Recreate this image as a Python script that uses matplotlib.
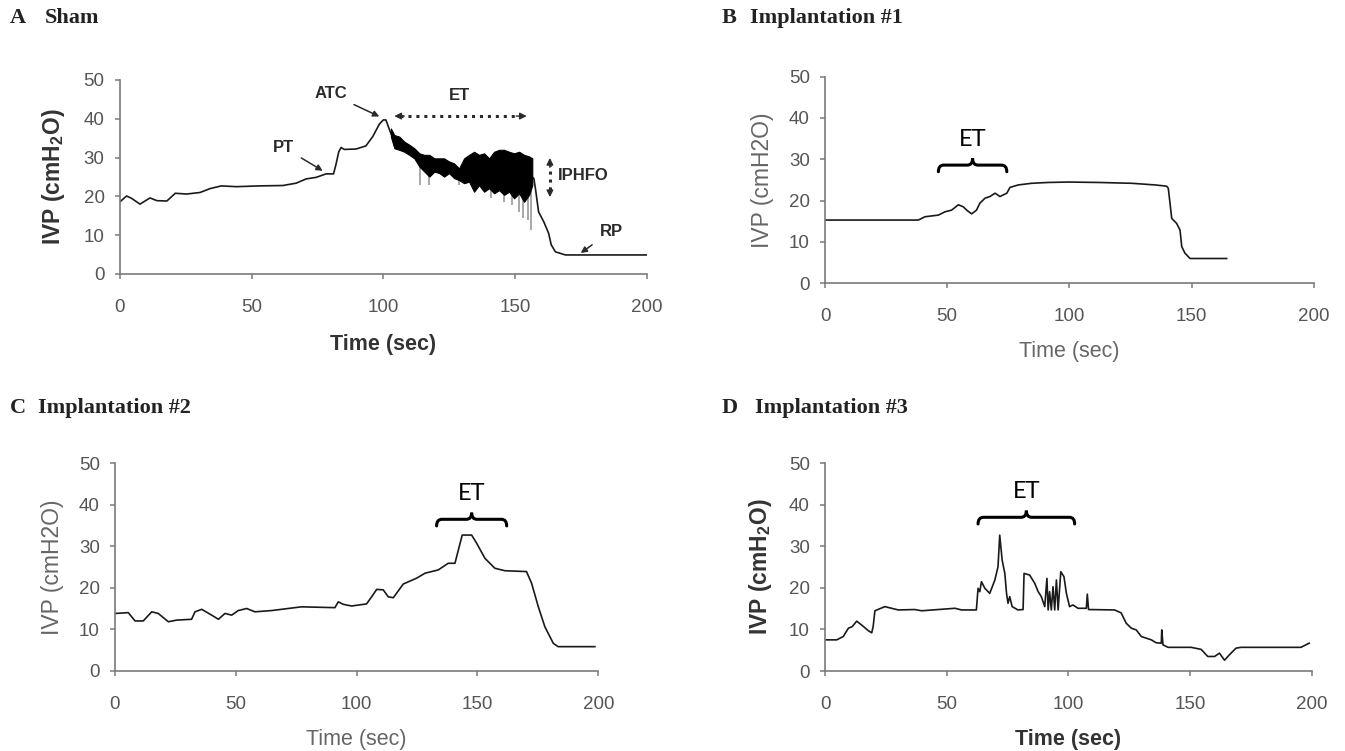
import numpy as np
import matplotlib
matplotlib.use("Agg")
import matplotlib.pyplot as plt
from matplotlib.path import Path
from matplotlib.patches import PathPatch

plt.rcParams["font.family"] = ["Liberation Sans", "DejaVu Sans"]
plt.rcParams["mathtext.fontset"] = "custom"
plt.rcParams["mathtext.rm"] = "Liberation Sans"
plt.rcParams["mathtext.bf"] = "Liberation Sans:bold"

# ---- data (time in sec, IVP in cmH2O) ----

# A  Sham
sham_t = [0, 2.5, 4.4, 7.6, 11.4, 14, 17.8, 21, 25.3, 30.4, 34.2, 38.5, 44.2, 53,
          61.9, 66.9, 70.7, 74.5, 78.3, 81.1, 82, 83.1, 84, 85.2, 89.6, 93.4, 96,
          98.5, 100, 101, 103, 110, 120, 130, 140, 150, 156.6,
          157.2, 157.8, 159, 161, 162.8, 163.8, 165.4, 169.2, 200]
sham_v = [18.6, 20.1, 19.5, 18.0, 19.6, 18.9, 18.8, 20.8, 20.6, 21.0, 22.0, 22.7, 22.5, 22.7,
          22.8, 23.4, 24.5, 24.9, 25.8, 25.8, 28.1, 31.5, 32.6, 32.1, 32.2, 33.0, 35.4,
          38.6, 39.7, 39.7, 36.0, 32.0, 28.0, 26.5, 26.0, 25.5, 25.0,
          24.6, 22.0, 16.0, 13.4, 10.5, 7.5, 5.7, 4.9, 4.9]
# envelope of the fast oscillation during ET
band_t = [102.9, 104.2, 106.1, 108, 109.9, 111.8, 113.7, 115.6, 117.5, 119.4, 121.3,
          123.1, 125, 126.9, 128.8, 130.7, 132.6, 134.5, 136.4, 138.3, 140.2, 142.1,
          144, 145.9, 147.8, 149.7, 151.6, 153.5, 155.4, 156.6]
band_hi = [37.5, 35.8, 35.4, 34.1, 33.3, 32.4, 31.1, 30.7, 30.7, 29.8, 29.8,
           29.8, 29.0, 28.5, 27.2, 29.8, 30.7, 31.5, 30.7, 31.1, 29.8, 31.5,
           32.0, 32.0, 31.5, 31.1, 31.5, 30.7, 30.3, 29.8]
band_lo = [35.4, 32.4, 32.0, 31.5, 30.7, 29.8, 27.7, 26.4, 25.1, 26.4, 26.0,
           25.1, 26.0, 24.7, 24.2, 23.4, 23.8, 21.2, 22.9, 21.2, 22.1, 20.8,
           21.6, 20.4, 21.2, 19.5, 20.8, 18.6, 20.4, 22.9]
spike_t = [113.9, 117.5, 128.8, 141, 145.9, 149, 151.6, 152.9, 154.8, 156.1]
spike_low = [22.9, 22.9, 22.9, 19.5, 18.6, 17.8, 16.0, 14.3, 13.9, 11.3]

# B  Implantation #1
imp1_t = [0, 38.2, 40.9, 46.4, 49.1, 51.8, 54.6, 56.6, 58, 60, 62, 63.4, 65.5, 67.5,
          69.6, 71.6, 74.4, 75.7, 79.1, 84.6, 91.4, 99.6, 111.9, 125.5, 135.1, 139.8,
          140.5, 141.2, 141.9, 143.9, 145.3, 146, 147.3, 149.4, 164.4]
imp1_v = [15.3, 15.3, 16.1, 16.5, 17.3, 17.7, 19.0, 18.5, 17.7, 16.8, 17.7, 19.4, 20.6, 21.0,
          21.8, 21.0, 21.8, 23.2, 23.8, 24.2, 24.4, 24.5, 24.4, 24.2, 23.8, 23.5,
          23.0, 19.4, 15.7, 14.5, 12.9, 8.9, 7.3, 6.0, 6.0]

# C  Implantation #2
imp2_t = [0, 5.5, 8.3, 11.7, 15.2, 17.9, 22.1, 25.5, 31.7, 33.1, 35.9, 40, 42.8, 45.5,
          48.3, 51, 54.5, 57.9, 64.8, 71.7, 77.2, 91, 92.4, 94.5, 97.9, 104.1, 106.2,
          108.3, 111, 113.1, 115.2, 119.3, 124.8, 128.3, 133.8, 137.9, 140.7, 142.1,
          143.7, 147.6, 149.7, 153.1, 157.2, 161.4, 170.3, 172.4, 175.2, 177.9, 181.4,
          183.4, 198.6]
imp2_v = [13.8, 14.0, 12.0, 12.0, 14.2, 13.8, 11.8, 12.2, 12.4, 14.2, 14.8, 13.4, 12.4, 13.8,
          13.4, 14.5, 15.0, 14.2, 14.5, 15.0, 15.4, 15.2, 16.6, 16.0, 15.6, 16.1, 17.8,
          19.6, 19.5, 17.8, 17.6, 20.9, 22.3, 23.5, 24.3, 25.9, 25.9, 29.1,
          32.7, 32.7, 30.7, 27.1, 24.7, 24.1, 23.9, 21.1, 15.4, 10.6, 6.6,
          5.8, 5.8]

# D  Implantation #3
imp3_t = [0, 4.8, 7.5, 9.6, 11.2, 13, 15, 17.8, 19.2, 19.8, 20.5, 24.6, 30.1, 36.9,
          39.7, 53.4, 56.1, 62.2, 62.9, 63.6, 64.3, 65.7, 67.7, 69.8, 71.1, 71.8, 72.8,
          73.9, 74.6, 75.2, 75.9, 76.9, 79.3, 81.4, 81.8, 84.1, 86.2, 87.6, 88.9, 90.3,
          91.2, 91.7, 92.3, 93.0, 93.7, 94.4, 95.1, 95.8, 96.9, 98.2, 99.2, 100.5, 101.9,
          104, 107.4, 107.8, 108.3, 119, 121.7, 123.8, 125.9, 127.9, 130, 134.1, 136.1,
          138.2, 138.4, 138.9, 141, 150.5, 154.6, 157.3, 160.1, 162.1, 164.2, 166.2,
          168.9, 171, 195.6, 199]
imp3_v = [7.5, 7.5, 8.3, 10.3, 10.7, 12.0, 11.1, 9.7, 9.2, 10.8, 14.5, 15.5, 14.7, 14.8,
          14.5, 15.1, 14.7, 14.7, 19.9, 19.1, 21.5, 19.9, 18.7, 21.9, 25.1, 32.7, 26.7,
          23.5, 18.7, 16.3, 17.9, 15.5, 14.7, 14.8, 23.5, 23.1, 21.1, 19.1, 17.9, 15.5,
          22.3, 14.7, 19.1, 14.7, 20.3, 14.7, 21.9, 14.7, 23.9, 22.7, 18.7, 15.5, 15.9,
          15.1, 15.1, 18.5, 14.8, 14.7, 14.0, 11.5, 10.3, 9.9, 8.3, 7.5, 6.8,
          6.7, 9.9, 6.3, 5.7, 5.7, 5.2, 3.5, 3.5, 4.3, 2.6, 3.9,
          5.5, 5.7, 5.7, 6.7]

# ET braces: (start, end, level of the bar)
brace_b = (46.4, 74.4, 28.6)
brace_c = (133.1, 162.1, 36.5)
brace_d = (62.9, 102.6, 37.0)

x_ticks = [0, 50, 100, 150, 200]
y_ticks = [0, 10, 20, 30, 40, 50]

# ---- figure ----
fig = plt.figure(figsize=(13.45, 7.51), dpi=100)

ax_a = fig.add_axes([0.0892, 0.6352, 0.3915, 0.2583])
ax_b = fig.add_axes([0.6134, 0.6228, 0.3633, 0.2751])
ax_c = fig.add_axes([0.0855, 0.1069, 0.3593, 0.2762])
ax_d = fig.add_axes([0.6134, 0.1065, 0.3618, 0.2766])

trace_color = "#1a1a1a"


def style_axis(ax, bold, label_color, xl_y, yl_x):
    for side in ["top", "right"]:
        ax.spines[side].set_visible(False)
    for side in ["left", "bottom"]:
        ax.spines[side].set_color("#7a7a7a")
        ax.spines[side].set_linewidth(1.2)
    ax.set_xlim(0, 200)
    ax.set_ylim(0, 50)
    ax.set_xticks(x_ticks)
    ax.set_yticks(y_ticks)
    ax.tick_params(axis="x", length=3.5, width=1.1, color="#7a7a7a", pad=14.5,
                   labelsize=13.5, labelcolor="#555555")
    ax.tick_params(axis="y", length=3.5, width=1.1, color="#7a7a7a", pad=7.5,
                   labelsize=13.5, labelcolor="#555555")
    weight = "bold" if bold else "normal"
    if bold:
        ylab = r"IVP (cmH$_\mathbf{2}$O)"
    else:
        ylab = "IVP (cmH2O)"
    ax.set_xlabel("Time (sec)", fontsize=15.5, fontweight=weight, color=label_color)
    ax.set_ylabel(ylab, fontsize=16.5, fontweight=weight, color=label_color)
    ax.xaxis.set_label_coords(0.5, xl_y)
    ax.yaxis.set_label_coords(yl_x, 0.5)


def draw_brace(ax, x0, x1, y, h=1.6, d=2.2):
    xm = (x0 + x1) / 2
    verts = [(x0, y - h), (x0, y), (x0 + d, y),
             (xm - d, y), (xm, y), (xm, y + h),
             (xm, y), (xm + d, y),
             (x1 - d, y), (x1, y), (x1, y - h)]
    codes = [Path.MOVETO, Path.CURVE3, Path.CURVE3,
             Path.LINETO, Path.CURVE3, Path.CURVE3,
             Path.CURVE3, Path.CURVE3,
             Path.LINETO, Path.CURVE3, Path.CURVE3]
    ax.add_patch(PathPatch(Path(verts, codes), fill=False, lw=2.2,
                           edgecolor="black", capstyle="round"))
    ax.text(xm, y + h + 2.0, "ET", family=["Lato", "DejaVu Sans"], fontsize=17,
            ha="center", va="bottom", color="black")


# A  Sham
ax_a.plot(sham_t, sham_v, color=trace_color, lw=1.2)
ax_a.vlines(spike_t, spike_low, np.interp(spike_t, band_t, band_lo) + 1,
            color="#9a9a9a", lw=1.2)
ax_a.fill_between(band_t, band_lo, band_hi, color="black", lw=0.8,
                  edgecolor="black", zorder=3)
style_axis(ax_a, True, "#333333", -0.31, -0.10)

ann_kw = dict(fontsize=12, fontweight="bold", color="#2a2a2a")
ax_a.annotate("PT", xy=(77, 26.6), xytext=(62, 32.7), ha="center", va="center",
              arrowprops=dict(arrowstyle="-|>", color="#2a2a2a", lw=1.1,
                              shrinkA=4, shrinkB=0, mutation_scale=9), **ann_kw)
ax_a.annotate("ATC", xy=(98.5, 40.6), xytext=(80.2, 46.4), ha="center", va="center",
              arrowprops=dict(arrowstyle="-|>", color="#2a2a2a", lw=1.1,
                              shrinkA=3, shrinkB=0, mutation_scale=9), **ann_kw)
ax_a.text(128.8, 46.1, "ET", ha="center", va="center", **ann_kw)
ax_a.plot([106.5, 152.5], [40.7, 40.7], ls=(0, (1, 1.6)), lw=2.2, color="#2a2a2a")
for x_tip, x_from in [(104.2, 108), (154.5, 150.5)]:
    ax_a.annotate("", xy=(x_tip, 40.7), xytext=(x_from, 40.7),
                  arrowprops=dict(arrowstyle="-|>", color="#2a2a2a", lw=1,
                                  mutation_scale=10, shrinkA=0, shrinkB=0))
ax_a.plot([163.3, 163.3], [21.7, 28.0], ls=(0, (1, 1.6)), lw=2.2, color="#2a2a2a")
for y_tip, y_from in [(29.9, 27.5), (19.8, 22.2)]:
    ax_a.annotate("", xy=(163.3, y_tip), xytext=(163.3, y_from),
                  arrowprops=dict(arrowstyle="-|>", color="#2a2a2a", lw=1,
                                  mutation_scale=10, shrinkA=0, shrinkB=0))
ax_a.text(166.5, 25.3, "IPHFO", ha="left", va="center", **ann_kw)
ax_a.annotate("RP", xy=(175, 5.4), xytext=(186.5, 11), ha="center", va="center",
              arrowprops=dict(arrowstyle="-|>", color="#2a2a2a", lw=1.1,
                              shrinkA=4, shrinkB=0, mutation_scale=9), **ann_kw)

# B  Implantation #1
ax_b.plot(imp1_t, imp1_v, color=trace_color, lw=1.2)
style_axis(ax_b, False, "#666666", -0.28, -0.104)
draw_brace(ax_b, *brace_b)

# C  Implantation #2
ax_c.plot(imp2_t, imp2_v, color=trace_color, lw=1.2)
style_axis(ax_c, False, "#666666", -0.28, -0.106)
draw_brace(ax_c, *brace_c)

# D  Implantation #3
ax_d.plot(imp3_t, imp3_v, color=trace_color, lw=1.2)
style_axis(ax_d, True, "#333333", -0.28, -0.105)
draw_brace(ax_d, *brace_d)

# panel titles
title_kw = dict(family=["Liberation Serif", "DejaVu Serif"], fontsize=16,
                fontweight="bold", color="#222222", va="center", ha="left")
fig.text(10 / 1345, 1 - 18 / 751, "A", **title_kw)
fig.text(45 / 1345, 1 - 18 / 751, "Sham", **title_kw)
fig.text(722 / 1345, 1 - 18 / 751, "B", **title_kw)
fig.text(750 / 1345, 1 - 18 / 751, "Implantation #1", **title_kw)
fig.text(10 / 1345, 1 - 408 / 751, "C", **title_kw)
fig.text(38 / 1345, 1 - 408 / 751, "Implantation #2", **title_kw)
fig.text(722 / 1345, 1 - 408 / 751, "D", **title_kw)
fig.text(755 / 1345, 1 - 408 / 751, "Implantation #3", **title_kw)

fig.savefig("out.png", dpi=100)
